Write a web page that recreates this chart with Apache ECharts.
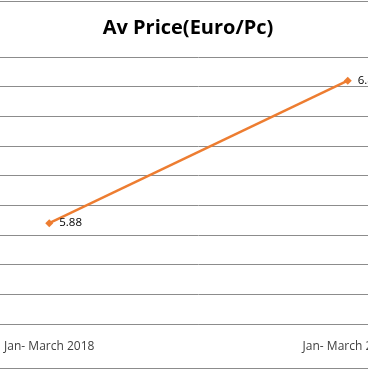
<!DOCTYPE html>
<html>
<head>
<meta charset="utf-8">
<script src="https://cdn.jsdelivr.net/npm/echarts@6/dist/echarts.min.js"></script>
<style>
html,body{margin:0;padding:0;background:#fff;}
#wrap{position:relative;width:368px;height:370px;overflow:hidden;}
#c{position:absolute;left:-100px;top:0;width:597px;height:370px;}
#frame{position:absolute;left:-2px;top:1px;width:372px;height:366px;border-top:1px solid #8c8c8c;border-bottom:1px solid #8c8c8c;pointer-events:none;}
</style>
</head>
<body>
<div id="wrap"><div id="c"></div><div id="frame"></div></div>
<script>
const categories = ["Jan- March 2018", "Jan- March 2019"];
const avPrice = [5.88, 6.84];
const yMin = 5.2, yMax = 7.0, yStep = 0.2;

const chart = echarts.init(document.getElementById('c'), null, {renderer: 'canvas'});
chart.setOption({
  animation: false,
  backgroundColor: '#ffffff',
  title: {
    text: 'Av Price(Euro/Pc)',
    left: 283, top: 13, textAlign: 'center',
    textStyle: {fontFamily: 'Open Sans', fontWeight: 'bold', fontSize: 20, color: '#000'}
  },
  grid: {left: 0, right: 0, top: 57, bottom: 46, containLabel: false},
  xAxis: {
    type: 'category', data: categories, boundaryGap: true,
    axisLine: {show: true, lineStyle: {color: '#8c8c8c', width: 1}},
    axisTick: {show: false},
    axisLabel: {color: '#404040', fontFamily: 'Open Sans', fontSize: 12, margin: 17}
  },
  yAxis: {
    type: 'value', min: yMin, max: yMax, interval: yStep,
    axisLabel: {show: false}, axisLine: {show: false}, axisTick: {show: false},
    splitLine: {lineStyle: {color: '#8c8c8c', width: 1}}
  },
  series: [{
    type: 'line', data: avPrice,
    symbol: 'diamond', symbolSize: 8,
    lineStyle: {color: '#ED7D31', width: 2.5},
    itemStyle: {color: '#ED7D31'},
    label: {show: true, position: 'right', distance: 6, color: '#000', fontFamily: 'Open Sans', fontSize: 11.5,
      formatter: p => p.value.toFixed(2)}
  }]
});
</script>
</body>
</html>
